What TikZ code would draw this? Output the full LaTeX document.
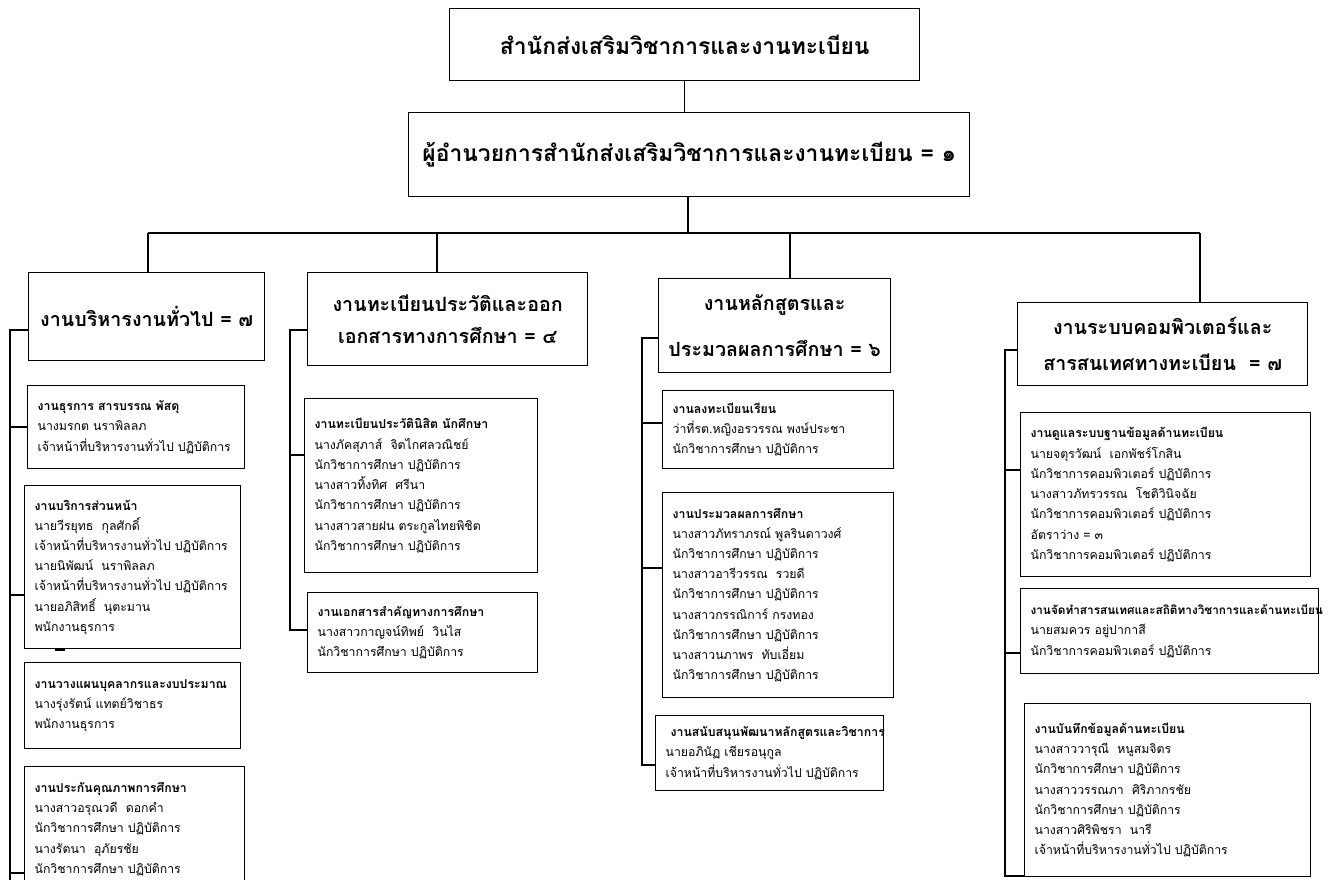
\documentclass[tikz,border=0pt]{standalone}
\usepackage{fontspec}
\setmainfont[Script=Thai]{Loma}
\begin{document}
\begin{tikzpicture}[y=-1cm,
	office/.style={shape=rectangle,draw=black,line width=0.8pt,anchor=north west,align=center,font=\bfseries\fontsize{13}{16}\selectfont},
	group/.style={shape=rectangle,draw=black,line width=0.8pt,anchor=north west,align=center,font=\bfseries\fontsize{11.2}{18}\selectfont},
	unit/.style={shape=rectangle,draw=black,line width=0.7pt,anchor=north west,align=left,inner xsep=0.2cm,font=\fontsize{7}{11.5}\selectfont},
	link/.style={line width=0.7pt}]
	\useasboundingbox (0,0) rectangle (26.56,17.58);

	\node[office,minimum width=9.4cm,minimum height=1.44cm] (office) at (8.98,0.16) {สำนักส่งเสริมวิชาการและงานทะเบียน};
	\node[office,minimum width=11.22cm,minimum height=1.68cm] (director) at (8.16,2.24) {ผู้อำนวยการสำนักส่งเสริมวิชาการและงานทะเบียน = ๑};

	\node[group,minimum width=4.72cm,minimum height=1.76cm] (admin) at (0.56,5.44) {งานบริหารงานทั่วไป = ๗};
	\node[group,minimum width=5.6cm,minimum height=1.86cm] (records) at (6.14,5.44) {งานทะเบียนประวัติและออก\\เอกสารทางการศึกษา = ๔};
	\node[group,minimum width=4.64cm,minimum height=1.88cm] (curric) at (13.16,5.56) {งานหลักสูตรและ\\[8.5pt]ประมวลผลการศึกษา = ๖};
	\node[group,minimum width=5.8cm,minimum height=1.66cm] (computer) at (20.34,6.04) {งานระบบคอมพิวเตอร์และ\\[2.3pt]สารสนเทศทางทะเบียน \ = ๗};

	% งานบริหารงานทั่วไป
	\node[unit,text width=3.94cm,minimum height=1.66cm] (b11) at (0.54,7.70) {\textbf{งานธุรการ สารบรรณ พัสดุ}\\นางมรกต นราพิลลภ\\เจ้าหน้าที่บริหารงานทั่วไป ปฏิบัติการ};
	\node[unit,text width=3.92cm,minimum height=3.26cm] (b12) at (0.48,9.70) {\textbf{งานบริการส่วนหน้า}\\นายวีรยุทธ \ กุลศักดิ์\\เจ้าหน้าที่บริหารงานทั่วไป ปฏิบัติการ\\นายนิพัฒน์ \ นราพิลลภ\\เจ้าหน้าที่บริหารงานทั่วไป ปฏิบัติการ\\นายอภิสิทธิ์ \ นุตะมาน\\พนักงานธุรการ};
	\node[unit,text width=3.92cm,minimum height=1.72cm] (b13) at (0.48,13.24) {\textbf{งานวางแผนบุคลากรและงบประมาณ}\\นางรุ่งรัตน์ แทตย์วิชาธร\\พนักงานธุรการ};
	\node[unit,text width=4.0cm,minimum height=2.5cm] (b14) at (0.48,15.32) {\textbf{งานประกันคุณภาพการศึกษา}\\นางสาวอรุณวดี \ ดอกคำ\\นักวิชาการศึกษา ปฏิบัติการ\\นางรัตนา \ อุภัยรชัย\\นักวิชาการศึกษา ปฏิบัติการ};

	% งานทะเบียนประวัติ
	\node[unit,text width=4.26cm,minimum height=3.48cm] (b21) at (6.08,7.96) {\textbf{งานทะเบียนประวัตินิสิต นักศึกษา}\\นางภัคสุภาส์ \ จิตไกศลวณิชย์\\นักวิชาการศึกษา ปฏิบัติการ\\นางสาวทิ้งทิศ \ ศรีนา\\นักวิชาการศึกษา ปฏิบัติการ\\นางสาวสายฝน ตระกูลไทยพิชิต\\นักวิชาการศึกษา ปฏิบัติการ};
	\node[unit,text width=4.2cm,minimum height=1.6cm] (b22) at (6.14,11.84) {\textbf{งานเอกสารสำคัญทางการศึกษา}\\นางสาวกาญจน์ทิพย์ \ วินไส\\นักวิชาการศึกษา ปฏิบัติการ};

	% งานหลักสูตร
	\node[unit,text width=4.22cm,minimum height=1.56cm] (b31) at (13.24,7.80) {\textbf{งานลงทะเบียนเรียน}\\ว่าที่รต.หญิงอรวรรณ พงษ์ประชา\\นักวิชาการศึกษา ปฏิบัติการ};
	\node[unit,text width=4.22cm,minimum height=4.1cm] (b32) at (13.24,9.84) {\textbf{งานประมวลผลการศึกษา}\\นางสาวภัทราภรณ์ พูลรินดาวงศ์\\นักวิชาการศึกษา ปฏิบัติการ\\นางสาวอารีวรรณ \ รวยดี\\นักวิชาการศึกษา ปฏิบัติการ\\นางสาวกรรณิการ์ กรงทอง\\นักวิชาการศึกษา ปฏิบัติการ\\นางสาวนภาพร \ ทับเอี่ยม\\นักวิชาการศึกษา ปฏิบัติการ};
	\node[unit,text width=4.16cm,minimum height=1.5cm] (b33) at (13.10,14.30) {\hspace*{0.1cm}\textbf{งานสนับสนุนพัฒนาหลักสูตรและวิชาการ}\\นายอภินัฏ เชียรอนุกูล\\เจ้าหน้าที่บริหารงานทั่วไป ปฏิบัติการ};

	% งานระบบคอมพิวเตอร์
	\node[unit,text width=5.4cm,minimum height=3.28cm] (b41) at (20.40,8.24) {\textbf{งานดูแลระบบฐานข้อมูลด้านทะเบียน}\\นายจตุรวัฒน์ \ เอกพัชร์โกสิน\\นักวิชาการคอมพิวเตอร์ ปฏิบัติการ\\นางสาวภัทรวรรณ \ โชติวินิจฉัย\\นักวิชาการคอมพิวเตอร์ ปฏิบัติการ\\อัตราว่าง = ๓\\นักวิชาการคอมพิวเตอร์ ปฏิบัติการ};
	\node[unit,text width=5.56cm,minimum height=1.7cm] (b42) at (20.40,11.76) {{\fontsize{6.7}{11.5}\selectfont\textbf{งานจัดทำสารสนเทศและสถิติทางวิชาการและด้านทะเบียน}}\\นายสมควร อยู่ปากาสี\\นักวิชาการคอมพิวเตอร์ ปฏิบัติการ};
	\node[unit,text width=5.32cm,minimum height=3.46cm] (b43) at (20.48,14.06) {\textbf{งานบันทึกข้อมูลด้านทะเบียน}\\นางสาววารุณี \ หนูสมจิตร\\นักวิชาการศึกษา ปฏิบัติการ\\นางสาววรรณภา \ ศิริภากรชัย\\นักวิชาการศึกษา ปฏิบัติการ\\นางสาวศิริพิชรา \ นารี\\เจ้าหน้าที่บริหารงานทั่วไป ปฏิบัติการ};

	% lines
	\coordinate (hub) at (13.76,4.66);
	\coordinate (j1) at (2.96,4.66);
	\coordinate (j2) at (8.74,4.66);
	\coordinate (j3) at (15.8,4.66);
	\coordinate (j4) at (24.0,4.66);
	\draw[link] (office.south) -- (office.south |- director.north);
	\draw[link] (director.south -| hub) -- (hub);
	\draw[link] (j1) -- (j4);
	\draw[link] (j1) -- (j1 |- admin.north);
	\draw[link] (j2) -- (j2 |- records.north);
	\draw[link] (j3) -- (j3 |- curric.north);
	\draw[link] (j4) -- (j4 |- computer.north);

	\coordinate (c1) at (0.2,6.6);
	\coordinate (c2) at (5.8,6.6);
	\coordinate (c3) at (12.84,6.76);
	\coordinate (c4) at (20.1,7.0);
	\draw[link] (admin.west |- c1) -- (c1) -- (0.2,17.7);
	\draw[link] (records.west |- c2) -- (c2) -- (5.8,12.6) -- (b22.west |- 0,12.6);
	\draw[link] (curric.west |- c3) -- (c3) -- (12.84,15.3) -- (b33.west |- 0,15.3);
	\draw[link] (computer.west |- c4) -- (c4) -- (20.1,17.52) -- (b43.west |- 0,17.52);
	\draw[link] (0.2,8.54) -- (b11.west |- 0,8.54);
	\draw[link] (0.2,11.9) -- (b12.west |- 0,11.9);
	\draw[link] (0.2,17.46) -- (b14.west |- 0,17.46);
	\draw[link] (5.8,9.1) -- (b21.west |- 0,9.1);
	\draw[link] (12.84,8.46) -- (b31.west |- 0,8.46);
	\draw[link] (12.84,11.36) -- (b32.west |- 0,11.36);
	\draw[link] (20.1,9.4) -- (b41.west |- 0,9.4);
	\draw[link] (20.1,13.06) -- (b42.west |- 0,13.06);
	\draw[link] (1.1,13.0) -- (1.3,13.0);
\end{tikzpicture}
\end{document}
